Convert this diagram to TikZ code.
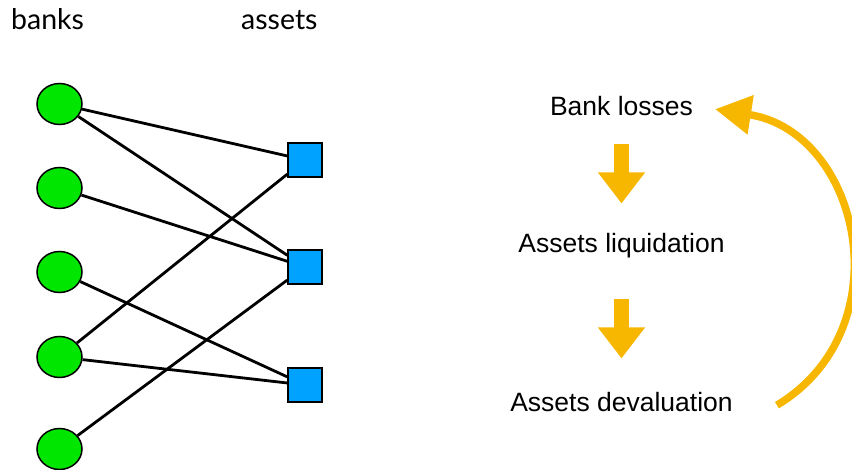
\documentclass[tikz,border=0pt]{standalone}
\usepackage{fontspec}
\setmainfont{Liberation Sans}
\newfontfamily\gillfont{Lato}
\usetikzlibrary{arrows.meta,shapes.geometric}
\definecolor{bankgreen}{RGB}{0,230,0}
\definecolor{assetblue}{RGB}{0,162,255}
\definecolor{spiral}{RGB}{247,183,0}

\begin{document}
\begin{tikzpicture}[x=1pt,y=1pt,
    bank/.style={ellipse,draw,line width=1.5pt,fill=bankgreen,minimum width=45pt,minimum height=41pt,inner sep=0pt},
    asset/.style={rectangle,draw,line width=1.5pt,fill=assetblue,minimum size=34pt,inner sep=0pt},
    link/.style={line width=2.8pt},
    head/.style={font=\gillfont\fontsize{28.5}{32}\selectfont,anchor=base west,inner sep=0pt},
    stage/.style={font=\fontsize{26.5}{30}\selectfont,text height=18pt,text depth=5pt,inner sep=0pt,anchor=base},
    drop/.style={line width=15pt,spiral,-{Triangle[length=31pt,width=45pt]}},
    feedback/.style={line width=7.5pt,spiral,-{Triangle[length=36pt,width=38pt]}}]
    \useasboundingbox (0,0) rectangle (852,470);

    % bipartite network
    \node[head](banksl) at (11,440.7){banks};
    \node[head](assetsl) at (241,440.7){assets};

    \node[bank](b1) at (59.5,366){};
    \node[bank](b2) at (59.5,282){};
    \node[bank](b3) at (59.5,198){};
    \node[bank](b4) at (59.5,113){};
    \node[bank](b5) at (59.5,21){};

    \node[asset](a1) at (305,310){};
    \node[asset](a2) at (305,203){};
    \node[asset](a3) at (305,85){};

    \draw[link](b1)--(a1);
    \draw[link](b1)--(a2);
    \draw[link](b2)--(a2);
    \draw[link](b3)--(a3);
    \draw[link](b4)--(a1);
    \draw[link](b4)--(a3);
    \draw[link](b5)--(a2);

    % contagion loop
    \node[stage](loss) at (621.5,354.3){Bank losses};
    \node[stage](liq) at (621.5,217.3){Assets liquidation};
    \node[stage](deval) at (621.5,58.3){Assets devaluation};

    \draw[drop]([yshift=-23pt]loss.south)--([yshift=31pt]liq.north);
    \draw[drop]([yshift=-41pt]liq.south)--([yshift=35pt]deval.north);
    \draw[feedback]([xshift=44pt]deval.east)to[out=31,in=-9,looseness=1.25]([xshift=22pt]loss.east);
\end{tikzpicture}
\end{document}
